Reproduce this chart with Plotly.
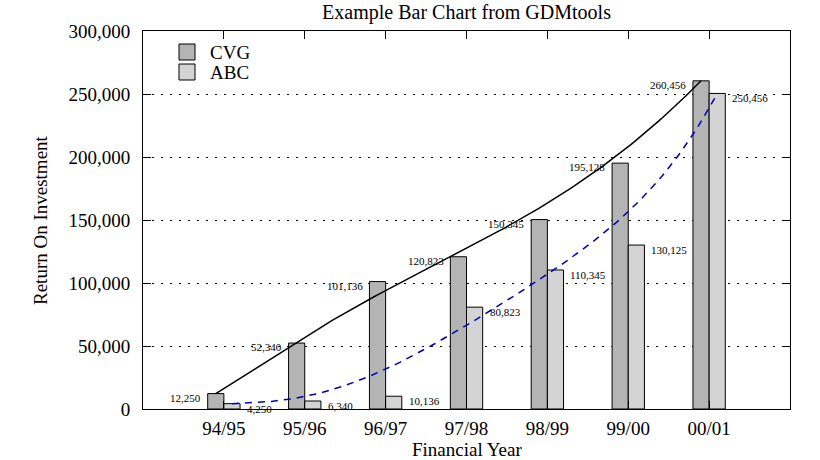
import numpy as np
from math import comb
import plotly.graph_objects as go

years = ["94/95", "95/96", "96/97", "97/98", "98/99", "99/00", "00/01"]
cvg = [12250, 52340, 101136, 120823, 150345, 195128, 260456]
abc = [4250, 6340, 10136, 80823, 110345, 130125, 250456]
y_ticks = [0, 50000, 100000, 150000, 200000, 250000, 300000]
series_names = ["CVG", "ABC"]
series_colors = ["#b4b4b4", "#d4d4d4"]

FONT = "Liberation Serif, Times New Roman, serif"
idx = list(range(len(years)))

# plot area in pixels (for legend / axis-title placement only)
L, R, T, B = 143, 790, 31, 409
W, H = R - L, B - T


def px_x(p):
    return (p - L) / W


def px_y(p):
    return (B - p) / H


def bezier(vals, n=160):
    """Bezier curve using the data points as control points (GDMtools trend line)."""
    m = len(vals) - 1
    t = np.linspace(0, 1, n)
    ys = np.zeros_like(t)
    for i, v in enumerate(vals):
        ys += comb(m, i) * t**i * (1 - t) ** (m - i) * v
    return t * m, ys


fig = go.Figure()
for name, vals, col in zip(series_names, [cvg, abc], series_colors):
    fig.add_trace(go.Bar(x=idx, y=vals, name=name, showlegend=False,
                         marker=dict(color=col, line=dict(color="black", width=1))))

cx, cy = bezier(cvg)
ax_, ay = bezier(abc)
fig.add_trace(go.Scatter(x=cx, y=cy, mode="lines", xaxis="x2", showlegend=False,
                         line=dict(color="black", width=1.5), hoverinfo="skip"))
fig.add_trace(go.Scatter(x=ax_, y=ay, mode="lines", xaxis="x3", showlegend=False,
                         line=dict(color="#0000b4", width=1.5, dash="7px,6px"), hoverinfo="skip"))

ann = []
for i, v in enumerate(cvg):
    ann.append(dict(x=i, y=v, xref="x", yref="y", text=f"{v:,}", showarrow=False,
                    xanchor="right", yanchor="middle", xshift=-21, yshift=-4,
                    font=dict(family=FONT, size=11, color="black")))
for i, v in enumerate(abc):
    ann.append(dict(x=i, y=v, xref="x", yref="y", text=f"{v:,}", showarrow=False,
                    xanchor="left", yanchor="middle", xshift=21, yshift=-5,
                    font=dict(family=FONT, size=11, color="black")))

# manual legend (boxes + labels)
shapes = []
for k, (name, col) in enumerate(zip(series_names, series_colors)):
    top = 44 + 20 * k
    shapes.append(dict(type="rect", xref="paper", yref="paper",
                       x0=px_x(179), x1=px_x(195), y0=px_y(top + 16), y1=px_y(top),
                       fillcolor=col, line=dict(color="black", width=1)))
    ann.append(dict(x=px_x(208), y=px_y(top + 8), xref="paper", yref="paper", text=name,
                    showarrow=False, xanchor="left", yanchor="middle",
                    font=dict(family=FONT, size=19, color="black")))

# axis titles
ann.append(dict(x=0.5, y=px_y(449), xref="paper", yref="paper", text="Financial Year",
                showarrow=False, xanchor="center", yanchor="middle",
                font=dict(family=FONT, size=19, color="black")))
ann.append(dict(x=px_x(40), y=0.5, xref="paper", yref="paper", text="Return On Investment",
                showarrow=False, xanchor="center", yanchor="middle", textangle=-90,
                font=dict(family=FONT, size=19, color="black")))

fig.update_layout(
    width=820, height=460,
    margin=dict(l=L, r=820 - R, t=T, b=460 - B, autoexpand=False),
    paper_bgcolor="white", plot_bgcolor="white",
    font=dict(family=FONT, size=19, color="black"),
    barmode="group", bargap=0.6, bargroupgap=0,
    showlegend=False,
    title=dict(text="Example Bar Chart from GDMtools", x=0.5, xref="paper",
               y=1, yref="container", yanchor="top", pad=dict(t=5, b=0),
               font=dict(family=FONT, size=20, color="black")),
    xaxis=dict(range=[-1, 7], tickvals=idx, ticktext=years, showgrid=False, zeroline=False,
               showline=True, linecolor="black", linewidth=1, mirror="ticks",
               ticks="inside", ticklen=8, tickcolor="black", ticklabelstandoff=2),
    xaxis2=dict(range=[-0.9, 7.1], overlaying="x", visible=False),
    xaxis3=dict(range=[-1.1, 6.9], overlaying="x", visible=False),
    yaxis=dict(range=[0, 300000], tickvals=y_ticks, tickformat=",", showgrid=True,
               gridcolor="black", gridwidth=1, griddash="2px,7px", zeroline=False,
               showline=True, linecolor="black", linewidth=1, mirror="ticks",
               ticks="inside", ticklen=8, tickcolor="black", ticklabelstandoff=8),
    shapes=shapes,
    annotations=ann,
)

fig.write_html("out.html", config={"displayModeBar": False},
               post_script="document.body.style.margin='0';")
